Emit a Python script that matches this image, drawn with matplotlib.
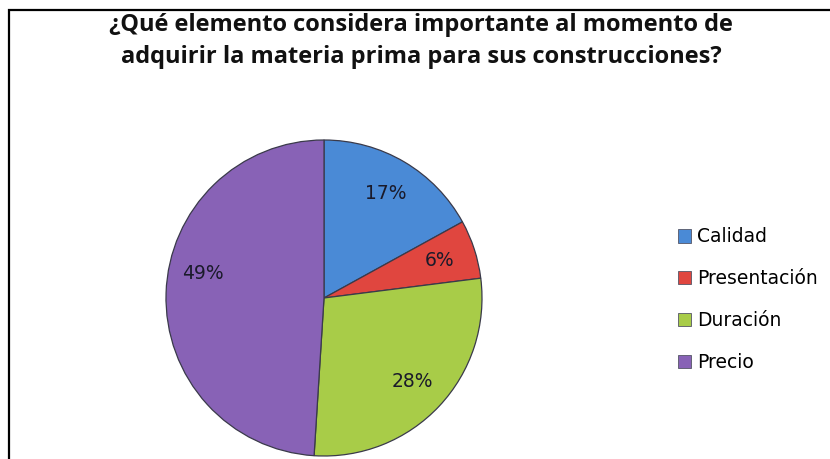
import matplotlib
matplotlib.use("Agg")
import matplotlib.pyplot as plt
from matplotlib.patches import Rectangle, Patch

categories = ["Calidad", "Presentación", "Duración", "Precio"]
values = [17, 6, 28, 49]
colors = ["#4A8AD6", "#E0463F", "#A8CC48", "#8862B6"]
title = "¿Qué elemento considera importante al momento de\nadquirir la materia prima para sus construcciones?"

W, H = 830, 459
fig = plt.figure(figsize=(W / 100, H / 100), dpi=100)
fig.patch.set_facecolor("white")

# frame border
fig.add_artist(Rectangle((9 / W, -0.05), 1.2, (H - 10) / H + 0.05, transform=fig.transFigure,
                         fill=False, edgecolor="black", linewidth=1.6))

# pie axes: center (324, 298) px from top, radius 158
cx, cy, r = 324, 298, 158
ax = fig.add_axes([(cx - r) / W, (H - cy - r) / H, 2 * r / W, 2 * r / H])
wedges, texts, autotexts = ax.pie(values, colors=colors, startangle=90, counterclock=False,
                                  autopct=lambda p: f"{p:.0f}%", pctdistance=0.77,
                                  wedgeprops=dict(edgecolor="#3a3a4a", linewidth=0.9),
                                  textprops=dict(fontsize=13.5, color="#1a1a2a"))
ax.set_xlim(-1, 1)
ax.set_ylim(-1, 1)
ax.set_aspect("equal")
ax.axis("off")
# Excel-style placement of the large-slice label
x49, y49 = autotexts[3].get_position()
autotexts[3].set_position((x49, y49 + 0.13))

fig.text(421 / W, 1 - 41 / H, title, ha="center", va="center", fontsize=17,
         fontweight="bold", family=["Open Sans", "DejaVu Sans"], linespacing=1.42, color="#111111")

handles = [Patch(facecolor=c, edgecolor="#555566", linewidth=0.6) for c in colors]
fig.legend(handles, categories, loc="upper left", bbox_to_anchor=(670 / W, 1 - 220 / H),
           frameon=False, fontsize=13.5, labelspacing=1.22, handlelength=0.7, handleheight=0.7,
           handletextpad=0.35, borderaxespad=0)

fig.savefig("out.png", dpi=100, facecolor="white")
